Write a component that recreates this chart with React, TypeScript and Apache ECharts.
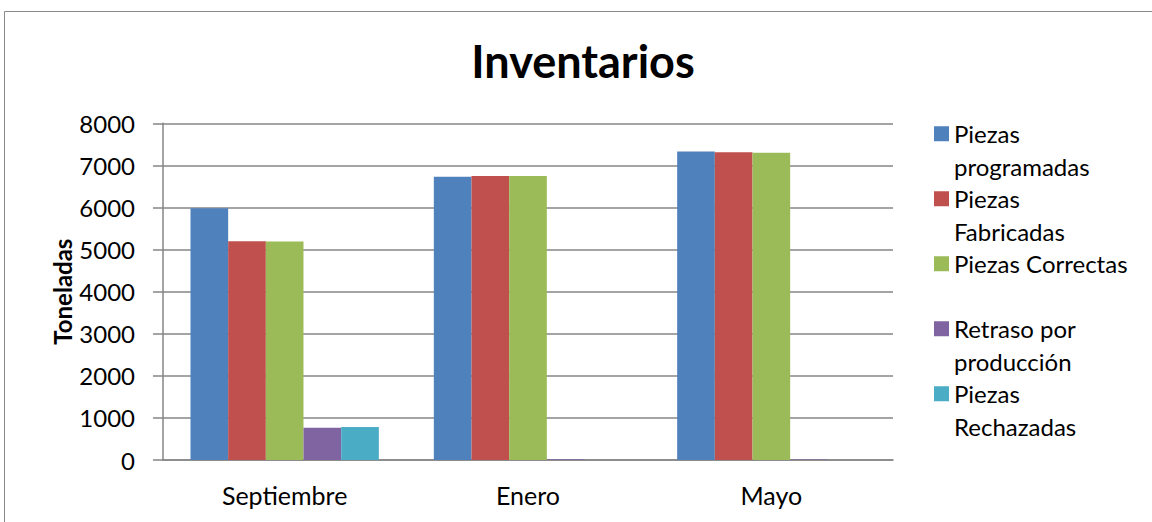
import React, { useEffect, useRef } from "react";
import * as echarts from "echarts";

const categories = ["Septiembre", "Enero", "Mayo"];
const seriesNames = [
  "Piezas programadas",
  "Piezas Fabricadas",
  "Piezas Correctas",
  "Retraso por producción",
  "Piezas Rechazadas",
];
const legendLines = [
  ["Piezas", "programadas"],
  ["Piezas", "Fabricadas"],
  ["Piezas Correctas"],
  ["Retraso por", "producción"],
  ["Piezas", "Rechazadas"],
];
const programadas = [5980, 6730, 7330];
const fabricadas = [5195, 6750, 7310];
const correctas = [5190, 6745, 7300];
const retraso = [767, 20, 10];
const rechazadas = [784, 0, 0];
const colors = ["#4F81BD", "#C0504D", "#9BBB59", "#8064A2", "#4BACC6"];
const yTicks = { min: 0, max: 8000, interval: 1000 };

const FONT = "Lato";
const FS = 24;
const LH = 32.5;

export default function App() {
  const ref = useRef<HTMLDivElement>(null);
  useEffect(() => {
    const chart = echarts.init(ref.current!, null, { renderer: "svg" });
    const values = [programadas, fabricadas, correctas, retraso, rechazadas];
    chart.setOption({
      animation: false,
      backgroundColor: "#ffffff",
      textStyle: { fontFamily: FONT },
      title: {
        text: "Inventarios",
        left: 578,
        top: 33,
        textAlign: "center",
        textStyle: { fontFamily: FONT, fontWeight: "bold", fontSize: 45, color: "#000" },
      },
      graphic: [
        {
          type: "rect",
          shape: { x: 4.5, y: 11.5, width: 1200, height: 600 },
          style: { fill: "none", stroke: "#8a8a8a", lineWidth: 1 },
          silent: true,
          z: -1,
        },
      ],
      legend: {
        orient: "vertical",
        left: 934,
        top: 85,
        padding: 0,
        itemWidth: 15,
        itemHeight: 15,
        itemGap: -LH,
        icon: "rect",
        data: seriesNames.map((n, i) => ({
          name: n,
          textStyle: {
            padding: legendLines[i].length === 1 ? [LH, 0, LH, 0] : [LH, 0, 0, 0],
          },
        })),
        formatter: (name: string) =>
          legendLines[seriesNames.indexOf(name)].map((l) => `{t|${l}}`).join("\n"),
        textStyle: {
          fontFamily: FONT,
          fontSize: FS,
          color: "#000",
          lineHeight: LH,
          rich: { t: { fontFamily: FONT, fontSize: FS, lineHeight: LH, color: "#000" } },
        },
      },
      grid: { left: 163, right: 259, top: 123.3, bottom: 62 },
      xAxis: {
        type: "category",
        data: categories,
        axisLine: { lineStyle: { color: "#868686", width: 1.5 } },
        axisTick: { show: false },
        axisLabel: { color: "#000", fontSize: 25, fontFamily: FONT, margin: 22 },
      },
      yAxis: {
        type: "value",
        min: yTicks.min,
        max: yTicks.max,
        interval: yTicks.interval,
        name: "Toneladas",
        nameLocation: "middle",
        nameGap: 89,
        nameMoveOverlap: false,
        nameTextStyle: { fontFamily: FONT, fontWeight: "bold", fontSize: FS, color: "#000" },
        axisLine: { show: true, lineStyle: { color: "#868686", width: 1.5 } },
        axisTick: { show: true, inside: false, length: 10, lineStyle: { color: "#868686", width: 1.5 } },
        axisLabel: {
          color: "#000",
          fontSize: FS,
          fontFamily: FONT,
          margin: 28,
          formatter: (v: number) => String(v),
        },
        splitLine: { lineStyle: { color: "#868686", width: 1.5 } },
      },
      series: seriesNames.map((n, i) => ({
        name: n,
        type: "bar",
        data: values[i],
        barGap: "0%",
        barCategoryGap: "22.6%",
        itemStyle: { color: colors[i] },
      })),
    });
    return () => chart.dispose();
  }, []);
  return (
    <div
      ref={ref}
      style={{ position: "absolute", left: 0, top: 0, width: 1152, height: 522 }}
    />
  );
}
